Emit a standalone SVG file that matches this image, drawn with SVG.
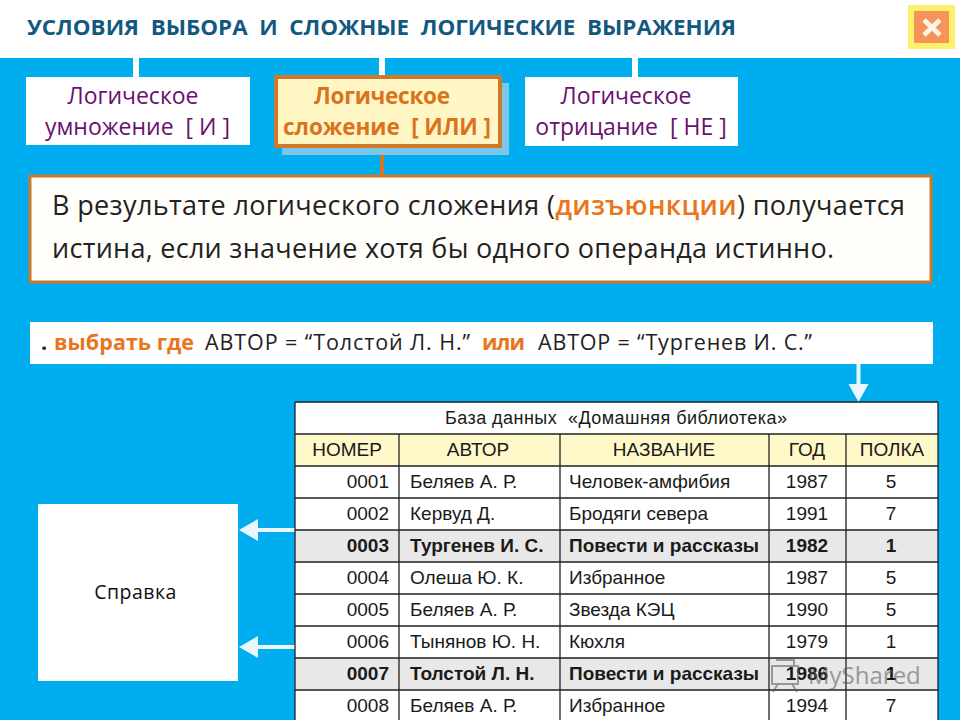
<svg xmlns="http://www.w3.org/2000/svg" width="960" height="720" viewBox="0 0 960 720">
<style>
.t{font-family:"Liberation Sans",Arial,sans-serif;font-size:19px;fill:#1a1a1a}
.b{font-weight:bold}
.m{text-anchor:middle}
.e{text-anchor:end}
.grid{stroke:#222;stroke-width:1.3;fill:none}
.ui{font-family:"Open Sans","Noto Sans",sans-serif}
.tab{font-size:23px;text-anchor:middle;fill:#6a1070}
.tabo{font-size:22.500px;text-anchor:middle;fill:#d9731c;font-weight:700}
.body{font-size:27px;fill:#222}
.q{font-size:21.500px;fill:#222}
.qk{font-size:21.500px;font-weight:bold;fill:#e8761c}
.wh{fill:#fff}
</style>
<rect width="960" height="720" fill="#fff"/>
<rect y="58" width="960" height="662" fill="#00aeef"/>
<text id="title" class="ui" x="27" y="35" font-size="22" font-weight="700" fill="#12587f" textLength="709" lengthAdjust="spacingAndGlyphs" xml:space="preserve">УСЛОВИЯ  ВЫБОРА  И  СЛОЖНЫЕ  ЛОГИЧЕСКИЕ  ВЫРАЖЕНИЯ</text>
<g id="close">
<rect x="908" y="5" width="47" height="44" fill="#fdf06a"/>
<rect x="914" y="11" width="35" height="32" fill="#f5935a"/>
<path d="M924 20L940 35M940 20L924 35" stroke="#fdf3e6" stroke-width="5"/>
</g>
<g id="connectors">
<rect class="wh" x="133" y="58" width="6" height="19"/>
<rect class="wh" x="379" y="58" width="6" height="19"/>
<rect class="wh" x="632" y="58" width="6" height="19"/>
<rect x="380" y="146" width="4" height="31" fill="#d0782a"/>
<path d="M856.500 364h4v20h8l-10 18l-10-18h8z" fill="#eaf8fd"/>
<path d="M295 528v4h-37v9l-19-11l19-11v9z" fill="#eaf8fd"/>
<path d="M295 645v4h-37v9l-19-11l19-11v9z" fill="#eaf8fd"/>
</g>
<g id="node-and">
<rect class="wh" x="26" y="77" width="224" height="68"/>
<text class="ui tab" x="133" y="104">Логическое</text>
<text class="ui tab" x="137.500" y="135" xml:space="preserve">умножение  [ И ]</text>
</g>
<g id="node-or">
<rect x="282" y="83" width="227" height="72" fill="#7cc6e8"/>
<rect x="276" y="77" width="224" height="69" fill="#fff6c4" stroke="#d0782a" stroke-width="4"/>
<text class="ui tabo" x="382" y="104" textLength="136">Логическое</text>
<text class="ui tabo" x="387" y="135" textLength="208" xml:space="preserve">сложение  [ ИЛИ ]</text>
</g>
<g id="node-not">
<rect class="wh" x="525" y="77" width="213" height="69"/>
<text class="ui tab" x="626" y="104">Логическое</text>
<text class="ui tab" x="631" y="135" xml:space="preserve">отрицание  [ НЕ ]</text>
</g>
<g id="definition">
<rect x="30" y="176" width="901" height="106" fill="#fffefb" stroke="#d0782a" stroke-width="3"/>
<text class="ui body" x="52" y="215" textLength="853" xml:space="preserve">В результате логического сложения (<tspan fill="#e8761c" font-weight="600">дизъюнкции</tspan>) получается</text>
<text class="ui body" x="52" y="258" textLength="782">истина, если значение хотя бы одного операнда истинно.</text>
</g>
<g id="query">
<rect class="wh" x="30" y="322" width="903" height="42"/>
<text class="ui qk" x="41" y="350" style="fill:#222">.</text>
<text class="ui qk" x="54" y="350" textLength="140">выбрать где</text>
<text class="ui q" x="205" y="350" textLength="265">АВТОР = “Толстой Л. Н.”</text>
<text class="ui qk" x="482" y="350" textLength="43">или</text>
<text class="ui q" x="538" y="350" textLength="274">АВТОР = “Тургенев И. С.”</text>
</g>
<g id="spravka">
<rect class="wh" x="38" y="504" width="200" height="177"/>
<text class="ui m" x="135.500" y="599" font-size="19.500" fill="#111" letter-spacing=".5">Справка</text>
</g>
<g id="table">
<rect class="wh" x="295" y="402" width="643" height="320"/>
<rect x="295" y="434" width="643" height="32" fill="#fff8c8"/>
<rect x="295" y="530" width="643" height="32" fill="#e8e8e8"/>
<rect x="295" y="658" width="643" height="32" fill="#e8e8e8"/>
<path class="grid" d="M295 402H938M295 434H938M295 466H938M295 498H938M295 530H938M295 562H938M295 594H938M295 626H938M295 658H938M295 690H938M295 402V720M938 402V720M399 434V720M560 434V720M769 434V720M846 434V720"/>
<text class="t m" x="616" y="424" textLength="342" style="font-size:18px" xml:space="preserve">База данных  «Домашняя библиотека»</text>
<g class="t m"><text x="347" y="456">НОМЕР</text><text x="478" y="456">АВТОР</text><text x="664" y="456">НАЗВАНИЕ</text><text x="807" y="456">ГОД</text><text x="892" y="456">ПОЛКА</text></g>
<g class="t">
<text class="e" x="389" y="488">0001</text><text x="410" y="488">Беляев А. Р.</text><text x="569" y="488">Человек-амфибия</text><text class="m" x="807" y="488">1987</text><text class="m" x="891" y="488">5</text>
<text class="e" x="389" y="520">0002</text><text x="410" y="520">Кервуд Д.</text><text x="569" y="520">Бродяги севера</text><text class="m" x="807" y="520">1991</text><text class="m" x="891" y="520">7</text>
<text class="e b" x="389" y="552">0003</text><text class="b" x="410" y="552">Тургенев И. С.</text><text class="b" x="569" y="552">Повести и рассказы</text><text class="m b" x="807" y="552">1982</text><text class="m b" x="891" y="552">1</text>
<text class="e" x="389" y="584">0004</text><text x="410" y="584">Олеша Ю. К.</text><text x="569" y="584">Избранное</text><text class="m" x="807" y="584">1987</text><text class="m" x="891" y="584">5</text>
<text class="e" x="389" y="616">0005</text><text x="410" y="616">Беляев А. Р.</text><text x="569" y="616">Звезда КЭЦ</text><text class="m" x="807" y="616">1990</text><text class="m" x="891" y="616">5</text>
<text class="e" x="389" y="648">0006</text><text x="410" y="648">Тынянов Ю. Н.</text><text x="569" y="648">Кюхля</text><text class="m" x="807" y="648">1979</text><text class="m" x="891" y="648">1</text>
<text class="e b" x="389" y="680">0007</text><text class="b" x="410" y="680">Толстой Л. Н.</text><text class="b" x="569" y="680">Повести и рассказы</text><text class="m b" x="807" y="680">1986</text><text class="m b" x="891" y="680">1</text>
<text class="e" x="389" y="712">0008</text><text x="410" y="712">Беляев А. Р.</text><text x="569" y="712">Избранное</text><text class="m" x="807" y="712">1994</text><text class="m" x="891" y="712">7</text>
</g>
</g>
<g id="watermark" opacity=".55">
<path d="M772 666h26v18h-26zM776 660h18v6M778 684l-5 8M792 684l5 8" fill="none" stroke="#555" stroke-width="2"/>
<text x="808" y="684" font-family="Open Sans,sans-serif" font-size="24" fill="#555">MyShared</text>
</g>
</svg>
